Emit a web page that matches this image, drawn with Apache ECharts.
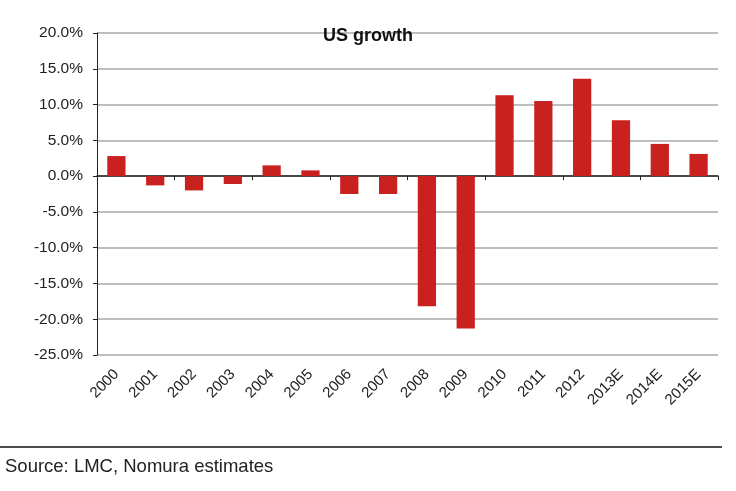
<!DOCTYPE html>
<html>
<head>
<meta charset="utf-8">
<script src="https://cdn.jsdelivr.net/npm/echarts@6/dist/echarts.min.js"></script>
<style>
html,body{margin:0;padding:0;background:#fff;}
#chart{width:736px;height:491px;}
</style>
</head>
<body>
<div id="chart"></div>
<script>
var categories = ['2000','2001','2002','2003','2004','2005','2006','2007','2008','2009','2010','2011','2012','2013E','2014E','2015E'];
var growth = [2.8, -1.3, -2.0, -1.1, 1.5, 0.8, -2.5, -2.5, -18.2, -21.3, 11.3, 10.5, 13.6, 7.8, 4.5, 3.1];
var yTicks = { min: -25, max: 20, interval: 5 };
var titleText = 'US growth';
var sourceText = 'Source: LMC, Nomura estimates';

var chart = echarts.init(document.getElementById('chart'), null, {renderer: 'canvas'});
var font = 'Liberation Sans, Arial, sans-serif';
chart.setOption({
  animation: false,
  backgroundColor: '#fff',
  title: {
    text: titleText,
    left: 'center',
    top: 27,
    padding: 0,
    textStyle: { fontFamily: font, fontSize: 18, fontWeight: 'bold', color: '#111' }
  },
  grid: { left: 97, right: 18, top: 33, bottom: 136, containLabel: false },
  xAxis: [{
    type: 'category',
    data: categories,
    position: 'bottom',
    axisLine: { show: false, onZero: false },
    axisTick: { show: false },
    axisLabel: {
      rotate: 45, margin: 17, interval: 0,
      fontFamily: font, fontSize: 15, color: '#222'
    },
    splitLine: { show: false }
  }, {
    type: 'category',
    data: categories,
    position: 'top',
    axisLine: { show: true, onZero: true, lineStyle: { color: '#222', width: 1.5 } },
    axisTick: { show: true, inside: true, length: 4, lineStyle: { color: '#222', width: 1 } },
    axisLabel: { show: false },
    splitLine: { show: false }
  }],
  yAxis: {
    type: 'value',
    min: yTicks.min, max: yTicks.max, interval: yTicks.interval,
    axisLine: { show: true, lineStyle: { color: '#222', width: 1 } },
    axisTick: { show: true, length: 4, lineStyle: { color: '#222' } },
    axisLabel: {
      margin: 14, fontFamily: font, fontSize: 15.5, color: '#222',
      formatter: function (v) { return v.toFixed(1) + '%'; }
    },
    splitLine: { show: true, lineStyle: { color: '#a8a8a8', width: 1.5 } }
  },
  series: [{
    type: 'bar',
    data: growth,
    xAxisIndex: 0,
    barWidth: '47%',
    itemStyle: { color: '#c9211f' }
  }],
  graphic: [{
    type: 'line',
    shape: { x1: 0, y1: 447, x2: 722, y2: 447 },
    style: { stroke: '#111', lineWidth: 1.5 }
  }, {
    type: 'text',
    left: 5, top: 457,
    style: { text: sourceText, fontFamily: font, fontSize: 18.5, fill: '#222' }
  }]
});
</script>
</body>
</html>
